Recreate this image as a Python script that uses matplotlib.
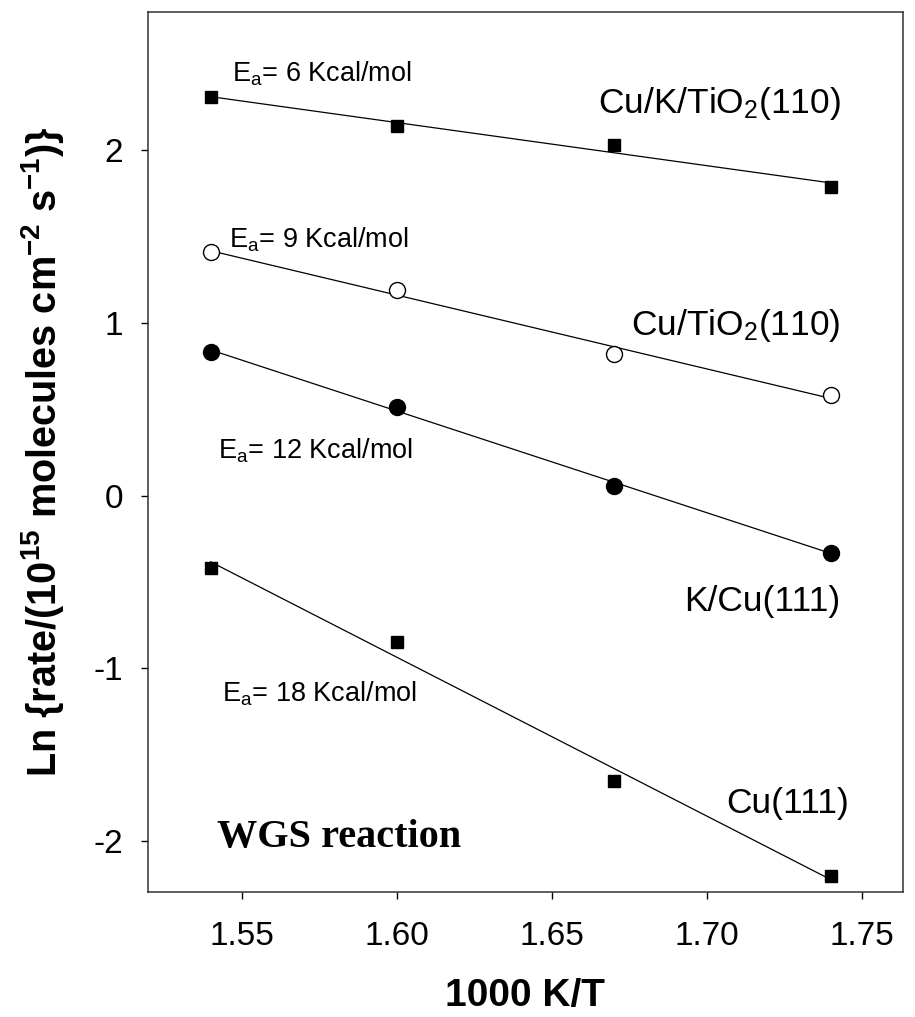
#!/usr/bin/env python3
import numpy as np
import matplotlib
matplotlib.use('Agg')
import matplotlib.pyplot as plt

plt.rcParams['font.family'] = ['Liberation Sans', 'DejaVu Sans']
plt.rcParams['mathtext.fontset'] = 'custom'
plt.rcParams['mathtext.rm'] = 'Liberation Sans'
plt.rcParams['mathtext.it'] = 'Liberation Sans'
plt.rcParams['mathtext.bf'] = 'Liberation Sans:bold'
plt.rcParams['axes.unicode_minus'] = False

# 1000 K/T
temps = [1.54, 1.60, 1.67, 1.74]

# ln(rate)
cu_k_tio2 = [2.307, 2.139, 2.03, 1.786]
cu_tio2 = [1.411, 1.19, 0.82, 0.58]
k_cu111 = [0.832, 0.515, 0.058, -0.33]
cu111 = [-0.417, -0.85, -1.655, -2.2]

series_names = ['Cu/K/TiO$_\\mathrm{2}$(110)', 'Cu/TiO$_\\mathrm{2}$(110)', 'K/Cu(111)', 'Cu(111)']
ea_labels = ['E$_\\mathrm{a}$= 6 Kcal/mol', 'E$_\\mathrm{a}$= 9 Kcal/mol',
             'E$_\\mathrm{a}$= 12 Kcal/mol', 'E$_\\mathrm{a}$= 18 Kcal/mol']

xticks = [1.55, 1.60, 1.65, 1.70, 1.75]
yticks = [-2, -1, 0, 1, 2]

fig = plt.figure(figsize=(9.15, 10.17), dpi=100)
ax = fig.add_axes([0.1617, 0.1229, 0.825, 0.8653])

x = np.array(temps)
styles = [('s', 'black', 8.6), ('o', 'white', 11.5), ('o', 'black', 11.5), ('s', 'black', 8.6)]
for ys, (mk, fc, ms) in zip([cu_k_tio2, cu_tio2, k_cu111, cu111], styles):
    ys = np.array(ys)
    # straight Arrhenius fit through the points
    k, b = np.polyfit(x, ys, 1)
    xf = np.array([x[0], x[-1]])
    ax.plot(xf, k * xf + b, color='black', lw=0.9, zorder=2)
    ax.plot(x, ys, ls='none', marker=mk, ms=ms, mfc=fc, mec='black', mew=1.0, zorder=3)

# activation energy labels
ax.text(1.5468, 2.394, ea_labels[0], fontsize=19.5, va='baseline', ha='left')
ax.text(1.5458, 1.433, ea_labels[1], fontsize=19.5, va='baseline', ha='left')
ax.text(1.5423, 0.217, ea_labels[2], fontsize=19.5, va='baseline', ha='left')
ax.text(1.5436, -1.195, ea_labels[3], fontsize=19.5, va='baseline', ha='left')

# sample labels
ax.text(1.7432, 2.214, series_names[0], fontsize=25.5, va='baseline', ha='right')
ax.text(1.7432, 0.929, series_names[1], fontsize=25.5, va='baseline', ha='right')
ax.text(1.7432, -0.669, series_names[2], fontsize=25.5, va='baseline', ha='right')
ax.text(1.7458, -1.838, series_names[3], fontsize=25.5, va='baseline', ha='right')

ax.text(1.542, -2.035, 'WGS reaction', fontsize=29, fontweight='bold',
        family='Liberation Serif', va='baseline', ha='left')

ax.set_xlim(1.5198, 1.7632)
ax.set_ylim(-2.295, 2.799)
ax.set_xticks(xticks)
ax.set_xticklabels(['%.2f' % t for t in xticks])
ax.set_yticks(yticks)
ax.set_yticklabels([str(t) for t in yticks])
ax.tick_params(direction='out', length=5, width=1, labelsize=24)
ax.tick_params(axis='x', pad=16)
ax.tick_params(axis='y', pad=13)
for sp in ax.spines.values():
    sp.set_linewidth(1.1)
    sp.set_color('#333333')

ax.set_xlabel('1000 K/T', fontsize=28, fontweight='bold')
ax.set_ylabel('Ln {rate/(10$^{\\mathbf{15}}$ molecules cm$^{\\mathbf{-2}}$ s$^{\\mathbf{-1}}$)}',
              fontsize=28.5, fontweight='bold')
ax.xaxis.set_label_coords(0.5, -0.0977)
ax.yaxis.set_label_coords(-0.1086, 0.5)

fig.savefig('out.png', dpi=100)
